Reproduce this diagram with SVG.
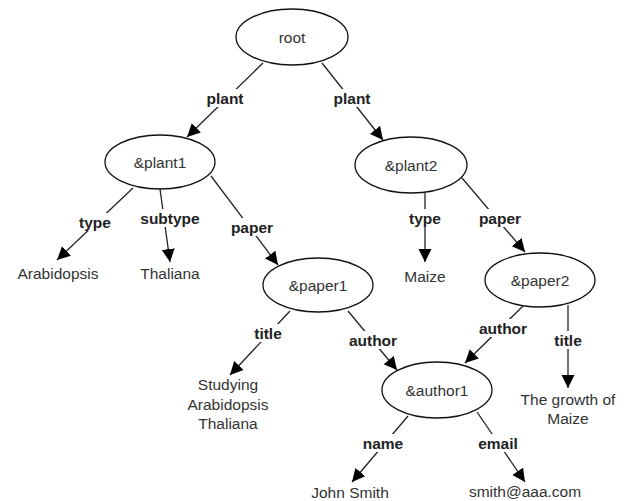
<svg xmlns="http://www.w3.org/2000/svg" width="629" height="501" viewBox="0 0 629 501">
<style>
.n ellipse{fill:#fff;stroke:#111;stroke-width:1.3}
text{font-family:"Liberation Sans",Arial,sans-serif;font-size:15.5px;fill:#333;text-anchor:middle}
.lbl{font-weight:bold;fill:#222}
.e line{stroke:#222;stroke-width:1.3}
.lb{fill:#fff}
</style>
<defs>
<marker id="ah" markerUnits="userSpaceOnUse" markerWidth="14" markerHeight="14" refX="13" refY="6.5" orient="auto" viewBox="0 0 14 13">
<path d="M0,0 L13,6.5 L0,13 z" fill="#000"/>
</marker>
</defs>
<g id="edges" class="e">
<line x1="263" y1="63" x2="187" y2="137" marker-end="url(#ah)"/>
<line x1="322" y1="63" x2="383" y2="140" marker-end="url(#ah)"/>
<line x1="133" y1="188" x2="57" y2="260" marker-end="url(#ah)"/>
<line x1="160" y1="189" x2="170" y2="262" marker-end="url(#ah)"/>
<line x1="211" y1="176" x2="278" y2="265" marker-end="url(#ah)"/>
<line x1="425" y1="193" x2="425" y2="262" marker-end="url(#ah)"/>
<line x1="462" y1="178" x2="525" y2="252" marker-end="url(#ah)"/>
<line x1="290" y1="311" x2="230" y2="375" marker-end="url(#ah)"/>
<line x1="348" y1="311" x2="397" y2="370" marker-end="url(#ah)"/>
<line x1="523" y1="306" x2="465" y2="363" marker-end="url(#ah)"/>
<line x1="568" y1="305" x2="568" y2="388" marker-end="url(#ah)"/>
<line x1="408" y1="416" x2="352" y2="482" marker-end="url(#ah)"/>
<line x1="477" y1="412" x2="525" y2="482" marker-end="url(#ah)"/>
<g class="lb">
<rect x="203" y="89" width="44" height="18"/>
<rect x="330" y="89" width="44" height="18"/>
<rect x="76" y="213" width="38" height="18"/>
<rect x="139" y="209" width="62" height="18"/>
<rect x="228" y="218" width="48" height="18"/>
<rect x="406" y="209" width="38" height="18"/>
<rect x="476" y="209" width="48" height="18"/>
<rect x="252" y="324" width="32" height="18"/>
<rect x="348" y="331" width="50" height="18"/>
<rect x="478" y="319" width="50" height="18"/>
<rect x="553" y="331" width="30" height="18"/>
<rect x="362" y="434" width="42" height="18"/>
<rect x="477" y="434" width="42" height="18"/>
</g>
<text class="lbl" x="225" y="104">plant</text>
<text class="lbl" x="352" y="104">plant</text>
<text class="lbl" x="95" y="228">type</text>
<text class="lbl" x="170" y="224">subtype</text>
<text class="lbl" x="252" y="233">paper</text>
<text class="lbl" x="425" y="224">type</text>
<text class="lbl" x="500" y="224">paper</text>
<text class="lbl" x="268" y="339">title</text>
<text class="lbl" x="373" y="346">author</text>
<text class="lbl" x="503" y="334">author</text>
<text class="lbl" x="568" y="346">title</text>
<text class="lbl" x="383" y="449">name</text>
<text class="lbl" x="498" y="449">email</text>
</g>
<g id="root" class="n"><ellipse cx="292" cy="37" rx="56" ry="28"/><text x="292" y="43">root</text></g>
<g id="plant1" class="n"><ellipse cx="160" cy="162" rx="55" ry="27"/><text x="160" y="168">&amp;plant1</text></g>
<g id="plant2" class="n"><ellipse cx="411" cy="165" rx="56" ry="28"/><text x="411" y="171">&amp;plant2</text></g>
<g id="paper1" class="n"><ellipse cx="318" cy="285" rx="55" ry="27"/><text x="318" y="291">&amp;paper1</text></g>
<g id="paper2" class="n"><ellipse cx="540" cy="280" rx="55" ry="27"/><text x="540" y="286">&amp;paper2</text></g>
<g id="author1" class="n"><ellipse cx="437" cy="390" rx="55" ry="28"/><text x="437" y="396">&amp;author1</text></g>
<g id="arabidopsis"><text x="58" y="279">Arabidopsis</text></g>
<g id="thaliana"><text x="170" y="279">Thaliana</text></g>
<g id="maize"><text x="425" y="282">Maize</text></g>
<g id="studying"><text x="228" y="390">Studying</text><text x="228" y="410">Arabidopsis</text><text x="228" y="429">Thaliana</text></g>
<g id="growth"><text x="568" y="405">The growth of</text><text x="568" y="424">Maize</text></g>
<g id="johnsmith"><text x="350" y="498">John Smith</text></g>
<g id="email"><text x="525" y="497">smith@aaa.com</text></g>
</svg>
